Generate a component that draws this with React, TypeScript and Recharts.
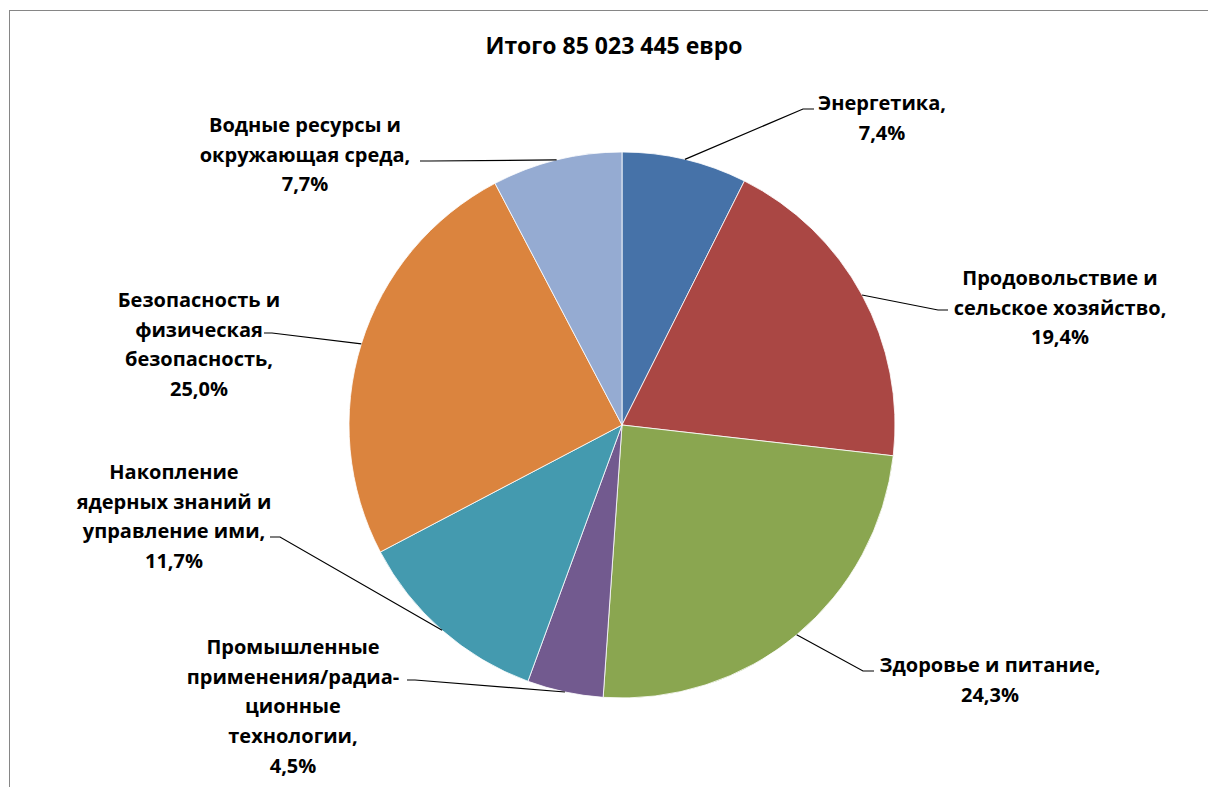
import { PieChart, Pie, Cell } from "recharts";

document.body.style.margin = "0";
document.body.style.overflow = "hidden";

const categories = [
  "Энергетика",
  "Продовольствие и сельское хозяйство",
  "Здоровье и питание",
  "Промышленные применения/радиационные технологии",
  "Накопление ядерных знаний и управление ими",
  "Безопасность и физическая безопасность",
  "Водные ресурсы и окружающая среда",
];

const shares = [7.4, 19.4, 24.3, 4.5, 11.7, 25.0, 7.7];

const labelLines = [
  ["Энергетика,"],
  ["Продовольствие и", "сельское хозяйство,"],
  ["Здоровье и питание,"],
  ["Промышленные", "применения/радиа-", "ционные", "технологии,"],
  ["Накопление", "ядерных знаний и", "управление ими,"],
  ["Безопасность и", "физическая", "безопасность,"],
  ["Водные ресурсы и", "окружающая среда,"],
];

const colors = ["#4672a8", "#aa4744", "#8aa650", "#725a8f", "#449aaf", "#db843e", "#95abd2"];

const title = "Итого 85 023 445 евро";

// where Excel put each data label (text centre, first line) and its leader elbow
const labelLayout = [
  { x: 882, y: 102, elbow: [803, 109], end: [814, 109] },
  { x: 1060, y: 277, elbow: [938, 310], end: [948, 310] },
  { x: 990, y: 664, elbow: [863, 671], end: [874, 671] },
  { x: 293, y: 646, elbow: [415, 680], end: [407, 680] },
  { x: 174, y: 471, elbow: [280, 537], end: [270, 537] },
  { x: 199, y: 299, elbow: [272, 333], end: [264, 333] },
  { x: 305, y: 124, elbow: [430, 161], end: [420, 161] },
];

const data = categories.map((name, i) => ({ name, value: shares[i] }));

const FONT = "'Open Sans', 'Noto Sans', sans-serif";
const LINE_STEP = 29.7;
const RAD = Math.PI / 180;

const fmt = (v: number) => v.toFixed(1).replace(".", ",") + "%";

function renderLabel(props: any) {
  const { cx, cy, midAngle, outerRadius, index } = props;
  const lay = labelLayout[index];
  const ex = cx + outerRadius * Math.cos(-midAngle * RAD);
  const ey = cy + outerRadius * Math.sin(-midAngle * RAD);
  const lines = [...labelLines[index], fmt(shares[index])];
  return (
    <g key={`lbl-${index}`}>
      <polyline
        points={`${ex},${ey} ${lay.elbow[0]},${lay.elbow[1]} ${lay.end[0]},${lay.end[1]}`}
        fill="none"
        stroke="#000"
        strokeWidth={1.2}
      />
      <text
        x={lay.x}
        y={lay.y}
        textAnchor="middle"
        dominantBaseline="central"
        fontFamily={FONT}
        fontWeight={700}
        fontSize={20}
        fill="#000"
      >
        {lines.map((t, i) => (
          <tspan key={i} x={lay.x} y={lay.y + i * LINE_STEP}>
            {t}
          </tspan>
        ))}
      </text>
    </g>
  );
}

export default function App() {
  return (
    <div style={{ position: "relative", width: 1208, height: 787, background: "#fff", overflow: "hidden" }}>
      <div
        style={{
          position: "absolute",
          left: 9,
          top: 10,
          width: 1300,
          height: 1300,
          borderLeft: "1px solid #868686",
          borderTop: "1px solid #868686",
        }}
      />
      <div
        style={{
          position: "absolute",
          left: 364,
          width: 500,
          top: 29,
          height: 32,
          lineHeight: "32px",
          textAlign: "center",
          fontFamily: FONT,
          fontWeight: 700,
          fontSize: 23,
          color: "#000",
        }}
      >
        {title}
      </div>
      <div style={{ position: "absolute", left: 0, top: 0 }}>
        <PieChart width={1208} height={787} margin={{ top: 0, right: 0, bottom: 0, left: 0 }}>
          <Pie
            data={data}
            dataKey="value"
            nameKey="name"
            cx={622}
            cy={425}
            outerRadius={273}
            startAngle={90}
            endAngle={-270}
            stroke="#ffffff"
            strokeWidth={0.8}
            label={renderLabel}
            labelLine={false}
            isAnimationActive={false}
          >
            {data.map((d, i) => (
              <Cell key={d.name} fill={colors[i]} />
            ))}
          </Pie>
        </PieChart>
      </div>
    </div>
  );
}
